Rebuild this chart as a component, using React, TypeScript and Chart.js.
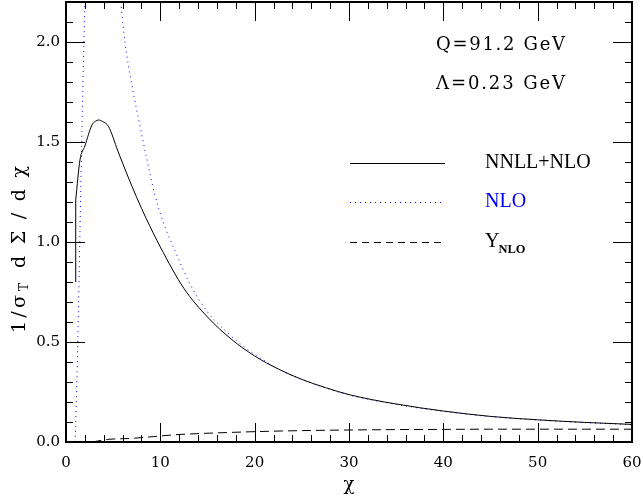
import React, { useEffect, useRef } from "react";
import { Chart, registerables } from "chart.js";

Chart.register(...registerables);

// NNLL+NLO resummed distribution (first point is the foot of the vertical edge)
const resumX = [1.03, 1.03, 1.48, 2.0, 2.75, 3.1, 3.45, 3.9, 4.5, 5.5, 6.5, 7.5, 8.5, 10, 12.5, 15, 17.5, 20, 22.5, 25, 27.5, 30, 35, 40, 45, 50, 55, 60];
const resumY = [0.8, 1.21, 1.41, 1.48, 1.585, 1.603, 1.61, 1.602, 1.578, 1.455, 1.335, 1.222, 1.118, 0.975, 0.768, 0.625, 0.515, 0.43, 0.365, 0.313, 0.272, 0.237, 0.19, 0.155, 0.128, 0.111, 0.098, 0.088];

// fixed-order NLO (null splits the two branches that leave the frame)
const nloX = [0.95, 1.2, 1.4, 1.6, 1.8, 2.0, 2.1, 3.8, 5.5, 5.8, 6.25, 7.0, 7.8, 8.5, 9.4, 10.3, 11.7, 13.2, 15, 16.7, 18.5, 20.2, 22.5, 25, 27.5, 30, 35, 40, 45, 50, 55, 60];
const nloY = [-0.05, 0.4, 0.85, 1.35, 1.8, 2.2, 2.4, null, 2.35, 2.2, 2.0, 1.78, 1.59, 1.43, 1.24, 1.1, 0.94, 0.785, 0.65, 0.565, 0.49, 0.432, 0.366, 0.313, 0.271, 0.235, 0.188, 0.153, 0.127, 0.11, 0.097, 0.087];

// remainder term Y_NLO
const remX = [2.8, 4.4, 6.9, 9.3, 11.5, 14.6, 17.5, 20.2, 25, 30, 35, 40, 45, 50, 55, 60];
const remY = [0.0, 0.013, 0.018, 0.027, 0.036, 0.043, 0.048, 0.052, 0.057, 0.06, 0.062, 0.063, 0.064, 0.064, 0.064, 0.064];

const xTickValues = [0, 10, 20, 30, 40, 50, 60];
const yTickValues = [0, 0.5, 1.0, 1.5, 2.0];
const X_MAX = 60;
const Y_MAX = 2.2;
const X_MINOR = 2;
const Y_MINOR = 0.1;
const MAJOR_LEN = 19;
const MINOR_LEN = 7;

const DOT = [1, 4];
const DASH = [9, 5];

const legendEntries = [
  { label: "NNLL+NLO", sub: "", color: "#000000", dash: [] as number[] },
  { label: "NLO", sub: "", color: "#0000ff", dash: [1, 4] },
  { label: "Y", sub: "NLO", color: "#000000", dash: [7, 5] },
];

const toPoints = (xs: number[], ys: (number | null)[]) => xs.map((x, i) => ({ x, y: ys[i] }));

const SERIF = "'DejaVu Serif', serif";
const TEX = "'Liberation Serif', serif";

// draw text character by character, spread so that it covers a given width
function fitText(ctx: CanvasRenderingContext2D, text: string, x: number, y: number, font: string, width: number) {
  ctx.font = font;
  ctx.textAlign = "left";
  const chars = Array.from(text);
  const ws = chars.map((c) => ctx.measureText(c).width);
  const natural = ws.reduce((s, w) => s + w, 0);
  const sp = chars.length > 1 ? (width - natural) / (chars.length - 1) : 0;
  let cx = x;
  chars.forEach((c, i) => {
    ctx.fillText(c, cx, y);
    cx += ws[i] + sp;
  });
}

// frame with inward ticks on all four sides, placed through the chart's scales
function drawFrame(ctx: CanvasRenderingContext2D, chart: any) {
  const a = chart.chartArea;
  const xs = chart.scales.x;
  const ys = chart.scales.y;
  ctx.save();
  ctx.fillStyle = "#000000";
  const nx = Math.round(X_MAX / X_MINOR);
  for (let i = 0; i <= nx; i++) {
    const v = i * X_MINOR;
    const px = Math.round(xs.getPixelForValue(v));
    const len = xTickValues.includes(v) ? MAJOR_LEN : MINOR_LEN;
    ctx.fillRect(px, Math.round(a.top), 1, len);
    ctx.fillRect(px, Math.round(a.bottom) - len, 1, len);
  }
  const ny = Math.round(Y_MAX / Y_MINOR);
  for (let i = 0; i <= ny; i++) {
    const v = i * Y_MINOR;
    const py = Math.round(ys.getPixelForValue(v));
    const len = yTickValues.some((t) => Math.abs(t - v) < 1e-9) ? MAJOR_LEN : MINOR_LEN;
    ctx.fillRect(Math.round(a.left), py, len, 1);
    ctx.fillRect(Math.round(a.right) - len, py, len, 1);
  }
  ctx.strokeStyle = "#000000";
  ctx.lineWidth = 2;
  ctx.strokeRect(a.left, a.top, a.right - a.left, a.bottom - a.top);
  ctx.restore();
}

const textPlugin = {
  id: "plotText",
  afterDraw(chart: any) {
    const ctx: CanvasRenderingContext2D = chart.ctx;
    const a = chart.chartArea;
    ctx.save();
    ctx.fillStyle = "#000";
    ctx.textBaseline = "middle";

    // run parameters
    fitText(ctx, "Q=91.2 GeV", 436, 45, `18px ${SERIF}`, 129);
    fitText(ctx, "\u039b=0.23 GeV", 436, 84, `18px ${SERIF}`, 129);

    // legend
    const rows = [163, 202, 242];
    legendEntries.forEach((e, i) => {
      const y = rows[i] + 0.5;
      ctx.strokeStyle = e.color;
      ctx.lineWidth = 1;
      ctx.setLineDash(e.dash);
      ctx.beginPath();
      ctx.moveTo(350, y);
      ctx.lineTo(445, y);
      ctx.stroke();
      ctx.setLineDash([]);
      ctx.fillStyle = e.color;
      ctx.font = `20px ${TEX}`;
      ctx.textAlign = "left";
      ctx.fillText(e.label, 485, rows[i]);
      if (e.sub) {
        const w = ctx.measureText(e.label).width;
        ctx.font = `bold 12.5px ${TEX}`;
        ctx.fillText(e.sub, 485 + w - 1, rows[i] + 8);
      }
    });

    // x axis title
    ctx.fillStyle = "#000";
    ctx.font = `18px ${SERIF}`;
    ctx.textAlign = "center";
    ctx.fillText("\u03c7", (a.left + a.right) / 2, 485);

    // y axis title 1/σ_T dΣ/dχ, read bottom to top
    ctx.translate(20, 0);
    ctx.rotate(-Math.PI / 2);
    fitText(ctx, "1/\u03c3", -333, 0, `19px ${SERIF}`, 38);
    ctx.font = `12px ${SERIF}`;
    ctx.textAlign = "left";
    ctx.fillText("T", -291, 5);
    fitText(ctx, "d\u03a3/d\u03c7", -268, 0, `19px ${SERIF}`, 102);
    ctx.restore();
  },
};

export default function App() {
  const canvasRef = useRef<HTMLCanvasElement | null>(null);
  const overlayRef = useRef<HTMLCanvasElement | null>(null);

  useEffect(() => {
    const canvas = canvasRef.current;
    const overlay = overlayRef.current;
    if (!canvas || !overlay) return;
    const resumPts = toPoints(resumX, resumY);
    const chart = new Chart(canvas, {
      type: "line",
      data: {
        datasets: [
          {
            label: "NNLL+NLO edge",
            data: resumPts.slice(0, 2),
            borderColor: "#000000",
            borderWidth: 1,
            pointRadius: 0,
            fill: false,
          },
          {
            label: "NNLL+NLO",
            data: resumPts.slice(1),
            borderColor: "#000000",
            borderWidth: 1,
            pointRadius: 0,
            fill: false,
            cubicInterpolationMode: "monotone",
          },
          {
            label: "NLO",
            data: toPoints(nloX, nloY),
            borderColor: "#0000ff",
            borderWidth: 1,
            borderDash: DOT,
            pointRadius: 0,
            fill: false,
            spanGaps: false,
            cubicInterpolationMode: "monotone",
          },
          {
            label: "Y_NLO",
            data: toPoints(remX, remY),
            borderColor: "#000000",
            borderWidth: 1,
            borderDash: DASH,
            pointRadius: 0,
            fill: false,
            cubicInterpolationMode: "monotone",
          },
        ],
      },
      options: {
        animation: false,
        responsive: false,
        devicePixelRatio: 1,
        layout: { padding: { top: 2, right: 11, left: 0, bottom: 0 } },
        plugins: { legend: { display: false }, tooltip: { enabled: false } },
        scales: {
          x: {
            type: "linear",
            min: 0,
            max: X_MAX,
            grid: { display: false, drawTicks: false },
            border: { display: false },
            ticks: {
              color: "#000",
              font: { family: SERIF, size: 15 },
              padding: 12,
              maxRotation: 0,
              autoSkip: false,
              callback: (v: any) => String(v),
            },
            afterBuildTicks: (s: any) => {
              s.ticks = xTickValues.map((v) => ({ value: v }));
            },
            afterFit: (s: any) => {
              s.height = 55;
              s.paddingLeft = 0;
              s.paddingRight = 0;
            },
          },
          y: {
            type: "linear",
            min: 0,
            max: Y_MAX,
            grid: { display: false, drawTicks: false },
            border: { display: false },
            ticks: {
              color: "#000",
              font: { family: SERIF, size: 15 },
              padding: 6,
              autoSkip: false,
              callback: (v: any) => Number(v).toFixed(1),
            },
            afterBuildTicks: (s: any) => {
              s.ticks = yTickValues.map((v) => ({ value: v }));
            },
            afterFit: (s: any) => {
              s.width = 66;
              s.paddingTop = 0;
              s.paddingBottom = 0;
            },
          },
        },
      },
      plugins: [textPlugin],
    });

    // frame and ticks go on a transparent layer above the chart
    const octx = overlay.getContext("2d");
    if (octx) {
      octx.clearRect(0, 0, overlay.width, overlay.height);
      drawFrame(octx, chart);
    }

    return () => {
      chart.destroy();
      const c = overlay.getContext("2d");
      if (c) c.clearRect(0, 0, overlay.width, overlay.height);
    };
  }, []);

  return (
    <div style={{ position: "fixed", left: 0, top: 0, width: 643, height: 497, background: "#fff" }}>
      <canvas ref={canvasRef} width={643} height={497} style={{ display: "block", position: "absolute", left: 0, top: 0 }} />
      <canvas
        ref={overlayRef}
        width={643}
        height={497}
        style={{ display: "block", position: "absolute", left: 0, top: 0, pointerEvents: "none" }}
      />
    </div>
  );
}
